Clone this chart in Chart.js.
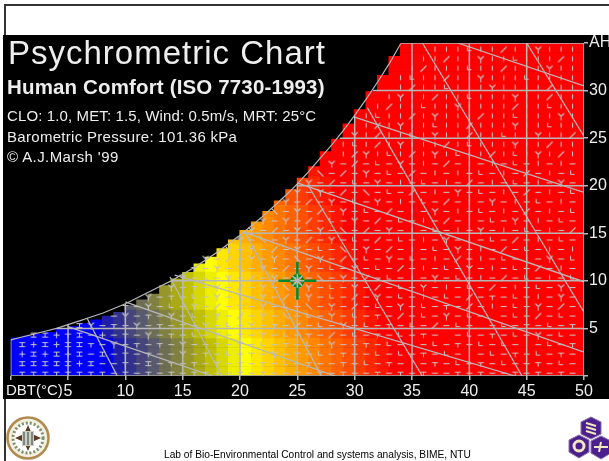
<!DOCTYPE html>
<html>
<head>
<meta charset="utf-8">
<title>Psychrometric Chart</title>
<script src="https://cdn.jsdelivr.net/npm/chart.js@4"></script>
<style>
  html, body { margin: 0; padding: 0; background: #fff; overflow: hidden; }
  #page { position: relative; width: 609px; height: 461px; overflow: hidden; font-family: "Liberation Sans", Arial, sans-serif; filter: blur(0.35px); }
  #frame { position: absolute; left: 4px; top: 4px; width: 620px; height: 455px; border: 2px solid #333; }
  #panel { position: absolute; left: 3px; top: 35px; width: 606px; height: 364px; background: #000; }
  #plot { position: absolute; left: 0; top: 0; }
  .txt { position: absolute; white-space: nowrap; line-height: 1; color: #eee; }
  svg { position: absolute; }
</style>
</head>
<body>
<div id="page">
  <div id="frame"></div>
  <div id="panel"></div>
  <canvas id="plot" width="609" height="461"></canvas>
  <div class="txt" style="left:8px;top:36px;font-size:33px;letter-spacing:1px">Psychrometric Chart</div>
  <div class="txt" style="left:7px;top:77px;font-size:20.5px;font-weight:bold;letter-spacing:0.15px">Human Comfort (ISO 7730-1993)</div>
  <div class="txt" style="left:7px;top:108px;font-size:15px;letter-spacing:0.12px">CLO: 1.0, MET: 1.5, Wind: 0.5m/s, MRT: 25°C</div>
  <div class="txt" style="left:7px;top:129px;font-size:15px;letter-spacing:0.3px">Barometric Pressure: 101.36 kPa</div>
  <div class="txt" style="left:7px;top:149px;font-size:15px;letter-spacing:0.4px">© A.J.Marsh '99</div>
  <div class="txt" style="left:6px;top:382px;font-size:15px">DBT(°C)</div>
  <div class="txt" style="left:164px;top:450px;font-size:10.2px;color:#000">Lab of Bio-Environmental Control and systems analysis, BIME, NTU</div>

  <!-- university seal -->
  <svg style="left:6px;top:416px" width="44" height="44" viewBox="0 0 44 44">
    <circle cx="22" cy="22" r="20.5" fill="#f4f0e0" stroke="#b08a50" stroke-width="2.5"/>
    <circle cx="22" cy="22" r="15" fill="#fff" stroke="#7d8f70" stroke-width="3" stroke-dasharray="2 2"/>
    <path d="M22 9 L26 18 L35 22 L26 26 L22 35 L18 26 L9 22 L18 18 Z" fill="#5a3a20"/>
    <rect x="16" y="15" width="12" height="15" fill="#c8d0c0"/>
    <path d="M18 16 V29 M22 16 V29 M26 16 V29" stroke="#555" stroke-width="1.2"/>
  </svg>
  <!-- lab logo -->
  <svg style="left:568px;top:415px" width="41" height="45" viewBox="0 0 41 45">
    <g fill="#4b1f8c" stroke="#8a70b0" stroke-width="1">
      <path d="M23 2 L33 7 L33 19 L23 24 L13 19 L13 7 Z"/>
      <path d="M11 20 L21 25 L21 37 L11 43 L1 37 L1 25 Z"/>
      <path d="M33 21 L43 26 L43 38 L33 44 L23 38 L23 26 Z"/>
    </g>
    <path d="M18 8 L28 11 M18 12 L28 15 M18 16 L28 19" stroke="#f0e8c0" stroke-width="2"/>
    <circle cx="11" cy="31" r="5" fill="none" stroke="#f0e8c0" stroke-width="3"/>
    <path d="M26 32 L40 32 M33 27 L31 37" stroke="#f0e8c0" stroke-width="2"/>
  </svg>
</div>

<script>
  // Axis ticks
  const dbtTicks = [0, 5, 10, 15, 20, 25, 30, 35, 40, 45, 50];
  const ahTicks = [0, 5, 10, 15, 20, 25, 30, 35];
  const ahTickLabels = ['', '5', '10', '15', '20', '25', '30', 'AH'];

  // Top of the coloured surface in each 1 degree column, DBT 0 to 49
  const columnTop = [
    4.0, 4.2, 4.4, 4.6, 4.9, 5.2, 5.5, 5.9, 6.3, 6.7,
    7.4, 8.0, 8.6, 9.5, 10.2, 10.9, 11.8, 12.5, 13.4, 14.3,
    15.3, 16.2, 17.3, 18.4, 19.6, 20.8, 22.0, 23.6, 24.9, 26.5,
    28.0, 29.9, 31.6, 33.6, 35, 35, 35, 35, 35, 35,
    35, 35, 35, 35, 35, 35, 35, 35, 35, 35
  ];

  // Saturation curve, AH at DBT 0, 1, 2 ... 34
  const saturationAH = [
    3.8, 4.1, 4.4, 4.7, 5.0, 5.4, 5.8, 6.2, 6.6, 7.1,
    7.6, 8.2, 8.8, 9.4, 10.0, 10.7, 11.4, 12.2, 13.0, 13.9,
    14.8, 15.8, 16.8, 17.9, 19.0, 20.2, 21.5, 22.9, 24.3, 25.8,
    27.4, 29.1, 30.9, 32.8, 34.9
  ];

  // Where each AH gridline leaves the saturation curve (DBT), for AH 5, 10 ... 35
  const ahLineStart = [4, 14, 20.2, 25, 28.7, 31.6, 34];

  // Constant-comfort lines as [dbt1, ah1, dbt2, ah2]
  const shallowLines = [
    [39.0, 35, 50, 30.5],
    [30.0, 27.2, 50, 19.3],
    [25.0, 20.3, 50, 9.9],
    [20.4, 15.1, 50, 2.5],
    [14.3, 10.6, 44.0, 0],
    [10.0, 7.8, 28.3, 0],
    [5.0, 5.2, 17.6, 0]
  ];
  const steepLines = [
    [35.9, 35, 50, 6.7],
    [45.0, 35, 50, 25.2],
    [31.1, 28.2, 44.6, 0],
    [25.9, 20.1, 35.9, 0],
    [20.4, 15.2, 27.1, 0],
    [13.9, 10.4, 18.4, 0],
    [6.65, 6.1, 9.3, 0]
  ];

  // Design condition shown by the green target
  const comfortPoint = { x: 25, y: 10 };

  // Comfort level of each cell, one string per AH row (AH 0 first), one character per DBT column.
  // A row stops where the rest of it is all the top level.
  const comfortRows = [
    "0000000013456789abcdefghijklmnopqr",
    "0000000013456789abcdefghijklmnopqr",
    "0000000013456789abcdefghijklmnopqr",
    "0000000013456789abcdefghijklmnopqr",
    "000000013456789abcdefghijklmnopqr",
    "000000013456789abcdefghijklmnopqr",
    "000000013456789abcdefghijklmnopqr",
    "00000013456789abcdefghijklmnopqr",
    "00000013456789abcdefghijklmnopqr",
    "00000013456789abcdefghijklmnopqr",
    "00000013456789abcdefghijklmnopqr",
    "0000013456789abcdefghijklmnopqr",
    "0000013456789abcdefghijklmnopqr",
    "0000013456789abcdefghijklmnopqr",
    "000013456789abcdefghijklmnopqr",
    "000013456789abcdefghijklmnopqr",
    "000013456789abcdefghijklmnopqr",
    "000013456789abcdefghijklmnopqr",
    "00013456789abcdefghijklmnopqr",
    "00013456789abcdefghijklmnopqr",
    "00013456789abcdefghijklmnopqr",
    "0013456789abcdefghijklmnopqr",
    "0013456789abcdefghijklmnopqr",
    "0013456789abcdefghijklmnopqr",
    "0013456789abcdefghijklmnopqr",
    "0013456789abcdefghijklmnopqr",
    "0013456789abcdefghijklmnopqr",
    "0013456789abcdefghijklmnopqr",
    "0013456789abcdefghijklmnopqr",
    "0013456789abcdefghijklmnopqr",
    "0013456789abcdefghijklmnopqr",
    "0013456789abcdefghijklmnopqr",
    "0013456789abcdefghijklmnopqr",
    "0013456789abcdefghijklmnopqr",
    "0013456789abcdefghijklmnopqr"
  ];

  // Small air-movement glyph at each grid crossing, AH 0 first, DBT 0 first.
  // - bar, I beam, T tee, + plus, | dash, Y fork, L bend, / and N diagonals, . none
  const markRows = [
    ".TTTTTTTT-T-T-T-TT--T-T--T-T-T--T-T-T--T-T--T-T-T-",
    ".IIIII+I--T-I-T-T-Y-T-T-L-T--T-L-T-.-T-L-T-L--T-L-",
    ".+I+I+I-I-T-T--Y-T-L-T-Y-T-L-T--L-L-T-L-.-L-T-L-T-",
    ".I+I+IIT-Y-T-T-Y--T-Y-L-T-L-Y--T-L-.-L-T-L-L-.-L-T",
    ".TII+TI-+-T-Y-T-L-Y-T-Y-L-T-/-L-T-L-T-.-L-T-L-Y-L-",
    "....ITIY-T-Y-T-T-Y-L-Y-T-/-L-Y-L-T-L-/-L-.-L-T-L-T",
    "......TYT-Y-T-Y-L-Y-/-Y-N-L-Y-L-T-/-L-Y-L-.-L-/-L-",
    "........Y-T-Y-L-Y-/-T-Y-L-N-Y-/-L-Y-L-T-/-|-L-Y-/-",
    "..........Y-Y-T-L-Y-N-Y-/-Y-L-/-Y-L-|-L-/-T-L-|-Y-",
    "..............Y-T-Y-/-Y-N-Y-L-Y-/-L-Y-|-L-/-|-L-Y-",
    "...............Y-L-Y-/-Y-Y-N-Y-/-L-|-Y-L-|-/-L-|-L",
    "................T-Y-N-Y-/-Y-L-Y-L-/-|-L-Y-|-L-/-|-",
    ".................Y-/-Y-Y-N-Y-/-L-Y-L-|-/-|-L-|-Y-L",
    "...................Y-Y-/-Y-L-N-Y-/-|-L-Y-|-/-L-|-|",
    "....................Y-N-Y-/-Y-L-/-L-|-Y-|-L-/-|-L-",
    ".....................Y-/-Y-Y-N-/-Y-|-L-|-Y-|-L-|-/",
    "......................Y-Y-/-L-Y-/-L-|-/-|-L-Y-|-L-",
    ".......................N-Y-/-Y-L-/-|-Y-|-L-|-/-|-L",
    "........................Y-/-Y-L-Y-|-L-/-|-Y-|-L-|-",
    ".........................Y-Y-/-N-L-/-|-Y-L-|-/-|-L",
    "..........................Y-/-L-Y-|-L-|-/-|-L-|-Y-",
    "...........................N-/-Y-L-/-|-|-L-|-/-|-L",
    "............................Y-/-L-Y-|-/-|-|-L-|-|-",
    ".............................|/Y|L|/|Y|L||/|L|Y|/|",
    ".............................|L|/|Y|||/|L|||Y||/||",
    "..............................Y|/||L|Y||/||L||Y||/",
    "...............................|/|Y||L||/|||Y||L||",
    "...............................|L||/|Y|||/||L|||Y|",
    "................................|/||L||Y||||/||L||",
    ".................................|Y||/||L|||Y||/||",
    "..................................|/||L|||Y||||/||",
    "..................................|L||/||Y|||L||||",
    "...................................|/|||L||/|||Y||",
    "....................................||/||Y||L|||/|",
    ".....................................|||L||/||Y|||"
  ];

  // Blue, through grey and yellow, to red
  const levelColours = {
    0: '#0000ff', 1: '#0000e6', 2: '#0a0ac8', 3: '#1e1eaa', 4: '#32328c', 5: '#46467d',
    6: '#5a5a6e', 7: '#6e6e55', 8: '#808040', 9: '#96962a', a: '#aaaa14', b: '#c0c000',
    c: '#d8d800', d: '#eeee00', e: '#ffff00', f: '#ffe800', g: '#ffd400', h: '#ffc000',
    i: '#ffad00', j: '#ff9a00', k: '#ff8800', l: '#ff7500', m: '#ff6200', n: '#ff5000',
    o: '#ff3c00', p: '#ff2800', q: '#ff1400', r: '#ff0000'
  };

  const lineGrey = '#b8b8b8';

  // Build the glyph sprites used as point styles
  function makeGlyph(segments) {
    const c = document.createElement('canvas');
    c.width = 9;
    c.height = 9;
    const g = c.getContext('2d');
    g.strokeStyle = '#c4c4c4';
    g.lineWidth = 1.1;
    g.beginPath();
    segments.forEach(function (s) {
      g.moveTo(s[0] + 0.5, s[1] + 0.5);
      g.lineTo(s[2] + 0.5, s[3] + 0.5);
    });
    g.stroke();
    return c;
  }
  const glyphs = {
    '-': makeGlyph([[1, 4, 7, 4]]),
    'I': makeGlyph([[1, 2, 7, 2], [4, 2, 4, 6], [1, 6, 7, 6]]),
    'T': makeGlyph([[1, 3, 7, 3], [4, 3, 4, 7]]),
    '+': makeGlyph([[1, 4, 7, 4], [4, 1, 4, 7]]),
    '|': makeGlyph([[4, 1, 4, 6]]),
    'Y': makeGlyph([[1, 1, 4, 4], [7, 1, 4, 4], [4, 4, 4, 8]]),
    'L': makeGlyph([[2, 1, 2, 5], [2, 5, 6, 5]]),
    '/': makeGlyph([[1, 7, 7, 1]]),
    'N': makeGlyph([[1, 1, 7, 7]])
  };

  // Coloured cells as floating bars
  const cells = [];
  const cellColours = [];
  comfortRows.forEach(function (row, ah) {
    columnTop.forEach(function (top, dbt) {
      if (ah >= top) return;
      cells.push({ x: dbt + 0.5, y: [ah, Math.min(ah + 1, top)] });
      cellColours.push(levelColours[row.charAt(dbt) || 'r']);
    });
  });

  // Glyph points, kept under the saturation curve
  const markPoints = [];
  const markStyles = [];
  markRows.forEach(function (row, ah) {
    for (let dbt = 1; dbt < 50; dbt++) {
      const code = row.charAt(dbt);
      if (!glyphs[code] || ah + 0.3 >= columnTop[dbt]) continue;
      markPoints.push({ x: dbt, y: ah + 0.3 });
      markStyles.push(glyphs[code]);
    }
  });

  // Every grey line ends up as its own dataset
  function greyLine(points, width) {
    return {
      type: 'scatter',
      showLine: true,
      data: points,
      borderColor: lineGrey,
      borderWidth: width,
      pointRadius: 0,
      order: 3
    };
  }
  const lineSets = [];
  lineSets.push(greyLine(saturationAH.map(function (ah, dbt) { return { x: dbt, y: ah }; }), 1.2));
  lineSets.push(greyLine([{ x: 0, y: 0 }, { x: 0, y: saturationAH[0] }], 1.5));
  lineSets.push(greyLine([{ x: 0, y: 0 }, { x: 50, y: 0 }], 1.5));
  dbtTicks.slice(1).forEach(function (dbt) {
    const top = dbt < saturationAH.length ? saturationAH[dbt] : 35;
    lineSets.push(greyLine([{ x: dbt, y: 0 }, { x: dbt, y: top }], 1.5));
  });
  ahTicks.slice(1).forEach(function (ah, i) {
    lineSets.push(greyLine([{ x: ahLineStart[i], y: ah }, { x: 50, y: ah }], 1.5));
  });
  shallowLines.concat(steepLines).forEach(function (l) {
    lineSets.push(greyLine([{ x: l[0], y: l[1] }, { x: l[2], y: l[3] }], 1.3));
  });

  new Chart(document.getElementById('plot'), {
    type: 'bar',
    data: {
      datasets: [
        {
          // green target, the grey star on top breaks the ring up
          type: 'scatter',
          data: [comfortPoint],
          pointStyle: 'star',
          pointRadius: 7,
          pointBorderColor: lineGrey,
          pointBorderWidth: 1.5,
          order: 0
        },
        {
          type: 'scatter',
          data: [comfortPoint],
          pointStyle: 'circle',
          pointRadius: 5.5,
          pointBackgroundColor: 'rgba(0,0,0,0)',
          pointBorderColor: '#008a2e',
          pointBorderWidth: 3,
          order: 1
        },
        {
          type: 'scatter',
          data: [comfortPoint],
          pointStyle: 'cross',
          pointRadius: 19,
          pointBorderColor: '#008a2e',
          pointBorderWidth: 2.5,
          order: 1
        }
      ].concat(lineSets, [
        {
          type: 'scatter',
          data: markPoints,
          pointStyle: markStyles,
          pointRadius: 3,
          order: 5
        },
        {
          type: 'bar',
          data: cells,
          backgroundColor: cellColours,
          barThickness: 12,
          grouped: false,
          order: 10
        }
      ])
    },
    options: {
      responsive: false,
      animation: false,
      events: [],
      // autoPadding would reserve room for the big target marker
      layout: { autoPadding: false, padding: { left: 10.7, top: 43, right: 0, bottom: 0 } },
      plugins: { legend: { display: false }, tooltip: { enabled: false } },
      scales: {
        x: {
          type: 'linear',
          min: 0,
          max: 50,
          offset: false,
          afterFit: function (scale) {
            scale.height = 85;
            scale.paddingLeft = 0;
            scale.paddingRight = 0;
          },
          afterBuildTicks: function (scale) {
            scale.ticks = dbtTicks.map(function (v) { return { value: v }; });
          },
          border: { display: false },
          grid: { offset: false, drawOnChartArea: false, color: lineGrey, lineWidth: 1.5, tickLength: 4 },
          ticks: {
            color: '#eee',
            font: { family: '"Liberation Sans"', size: 16 },
            padding: 2,
            maxRotation: 0,
            autoSkip: false,
            callback: function (v) { return v === 0 ? '' : String(v); }
          }
        },
        y: {
          type: 'linear',
          position: 'right',
          min: 0,
          max: 35,
          afterFit: function (scale) { scale.width = 25; },
          afterBuildTicks: function (scale) {
            scale.ticks = ahTicks.map(function (v) { return { value: v }; });
          },
          border: { display: false },
          grid: { drawOnChartArea: false, color: lineGrey, lineWidth: 1.5, tickLength: 4 },
          ticks: {
            color: '#eee',
            font: { family: '"Liberation Sans"', size: 16 },
            padding: 1,
            autoSkip: false,
            callback: function (v) { return ahTickLabels[ahTicks.indexOf(v)]; }
          }
        }
      }
    }
  });
</script>
</body>
</html>
